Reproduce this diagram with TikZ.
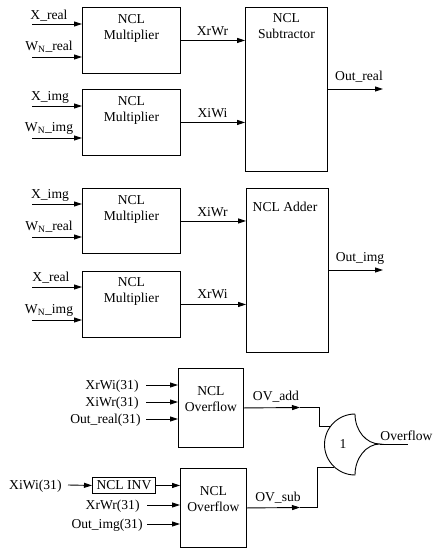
\documentclass[tikz,border=0pt]{standalone}
\usepackage{fontspec}
\setmainfont{Liberation Serif}
\usetikzlibrary{arrows.meta,calc}
\begin{document}
\begin{tikzpicture}[x=1pt,y=-1pt,line width=0.9pt,
  box/.style={draw,rectangle,inner sep=0pt,anchor=north west},
  arr/.style={-{Triangle[length=8pt,width=5pt]}},
  txt/.style={font=\fontsize{13.6pt}{16pt}\selectfont,inner sep=0pt},
  ttl/.style={txt,align=center,anchor=north}]
\useasboundingbox (0,0) rectangle (432,550);

% ---------- first group ----------
\node[box,minimum width=98pt,minimum height=66pt] (m1) at (82,7) {};
\node[ttl] (m1t) at ($(m1.north)+(0,7.5)$) {NCL\\Multiplier};
\node[box,minimum width=98pt,minimum height=66pt] (m2) at (82,89) {};
\node[ttl] (m2t) at ($(m2.north)+(0,7.5)$) {NCL\\Multiplier};
\node[box,minimum width=82pt,minimum height=164pt] (sub) at (245,7) {};
\node[ttl] (subt) at ($(sub.north)+(0,6)$) {NCL\\Subtractor};

\coordinate (i1) at (32,24);
\coordinate (i2) at (32,57);
\coordinate (i3) at (32,106);
\coordinate (i4) at (32,138);
\draw[arr] (i1) -- (i1 -| m1.west);
\draw[arr] (i2) -- (i2 -| m1.west);
\draw[arr] (i3) -- (i3 -| m2.west);
\draw[arr] (i4) -- (i4 -| m2.west);
\node[txt,anchor=base] (li1) at (49,19) {X\_real};
\node[txt,anchor=base] (li2) at (49,50) {W\textsubscript{N}\_real};
\node[txt,anchor=base] (li3) at (50,100) {X\_img};
\node[txt,anchor=base] (li4) at (49,131) {W\textsubscript{N}\_img};

\draw[arr] (m1.east) -- (m1.east -| sub.west);
\draw[arr] (m2.east) -- (m2.east -| sub.west);
\node[txt,anchor=base] (lo1) at (212.5,35) {XrWr};
\node[txt,anchor=base] (lo2) at (212.5,117) {XiWi};

\coordinate (o1) at (383,89);
\draw[arr] (sub.east |- o1) -- (o1);
\node[txt,anchor=base] (lor) at (359,80) {Out\_real};

% ---------- second group ----------
\node[box,minimum width=98pt,minimum height=65pt] (m3) at (82,188) {};
\node[ttl] (m3t) at ($(m3.north)+(0,7)$) {NCL\\Multiplier};
\node[box,minimum width=98pt,minimum height=66pt] (m4) at (82,271) {};
\node[ttl] (m4t) at ($(m4.north)+(0,6.5)$) {NCL\\Multiplier};
\node[box,minimum width=82pt,minimum height=164pt] (add) at (246,188) {};
\node[ttl] (addt) at (285,201.5) {NCL Adder};

\coordinate (i5) at (32,204);
\coordinate (i6) at (32,237);
\coordinate (i7) at (32,287);
\coordinate (i8) at (32,320);
\draw[arr] (i5) -- (i5 -| m3.west);
\draw[arr] (i6) -- (i6 -| m3.west);
\draw[arr] (i7) -- (i7 -| m4.west);
\draw[arr] (i8) -- (i8 -| m4.west);
\node[txt,anchor=base] (li5) at (50,198) {X\_img};
\node[txt,anchor=base] (li6) at (49,230) {W\textsubscript{N}\_real};
\node[txt,anchor=base] (li7) at (51,281) {X\_real};
\node[txt,anchor=base] (li8) at (49,313) {W\textsubscript{N}\_img};

\draw[arr] (m3.east) -- (m3.east -| add.west);
\draw[arr] (m4.east) -- (m4.east -| add.west);
\node[txt,anchor=base] (lo3) at (212.5,216) {XiWr};
\node[txt,anchor=base] (lo4) at (212.5,298) {XrWi};

\coordinate (o2) at (383,270);
\draw[arr] (add.east |- o2) -- (o2);
\node[txt,anchor=base] (loi) at (360,261) {Out\_img};

% ---------- overflow part ----------
\node[box,minimum width=65pt,minimum height=79pt] (ov1) at (178,368) {};
\node[ttl] (ov1t) at ($(ov1.north)+(0,18.5)$) {NCL\\Overflow};
\node[box,minimum width=66pt,minimum height=79pt] (ov2) at (180,468) {};
\node[ttl] (ov2t) at ($(ov2.north)+(0,18.5)$) {NCL\\Overflow};
\node[box,minimum width=63pt,minimum height=16pt,txt,draw] (inv) at (92,477) {NCL INV};

\coordinate (j1) at (146,385);
\coordinate (j2) at (146,402);
\coordinate (j3) at (146,419);
\draw[arr] (j1) -- (j1 -| ov1.west);
\draw[arr] (j2) -- (j2 -| ov1.west);
\draw[arr] (j3) -- (j3 -| ov1.west);
\node[txt,anchor=base east] (lj1) at (139,389.5) {XrWi(31)};
\node[txt,anchor=base east] (lj2) at (139,406.5) {XiWr(31)};
\node[txt,anchor=base east] (lj3) at (141,423.5) {Out\_real(31)};

\coordinate (j4) at (68,485);
\coordinate (j5) at (147,505);
\coordinate (j6) at (147,524);
\draw[arr] (j4) -- (inv.west);
\draw[arr] (inv.east) -- (inv.east -| ov2.west);
\draw[arr] (j5) -- (j5 -| ov2.west);
\draw[arr] (j6) -- (j6 -| ov2.west);
\node[txt,anchor=base east] (lj4) at (62,489.5) {XiWi(31)};
\node[txt,anchor=base east] (lj5) at (140,509.5) {XrWr(31)};
\node[txt,anchor=base east] (lj6) at (143,528.5) {Out\_img(31)};

% gate
\coordinate (gtop) at (355,414);
\coordinate (gbot) at (355,475);
\coordinate (gtip) at (380,444);
\draw (gtop) .. controls (338.2,414) and (324.5,427.7) .. (324.5,444.5)
      .. controls (324.5,461.3) and (338.2,475) .. (gbot)
      .. controls (355,457.9) and (366.2,444) .. (gtip)
      .. controls (366.2,444) and (355,430.6) .. (gtop);
\node[txt] (gone) at (343,444) {1};

\coordinate (a1) at (300,407.5);
\coordinate (k1) at (319,426);
\coordinate (g1) at (331,426);
\draw[arr] (ov1.east) -- (a1);
\draw (a1) -| (k1) -- (g1);
\node[txt,anchor=base] (lov1) at (276,400) {OV\_add};

\coordinate (a2) at (300,507.5);
\coordinate (k2) at (317,467);
\coordinate (g2) at (334,467);
\draw[arr] (ov2.east) -- (a2);
\draw (a2) -| (k2) -- (g2);
\node[txt,anchor=base] (lov2) at (278,501) {OV\_sub};

\coordinate (gout) at (408,444);
\draw (gtip) -- (gout);
\node[txt,anchor=base west] (lovf) at (380,440) {Overflow};
\end{tikzpicture}
\end{document}
